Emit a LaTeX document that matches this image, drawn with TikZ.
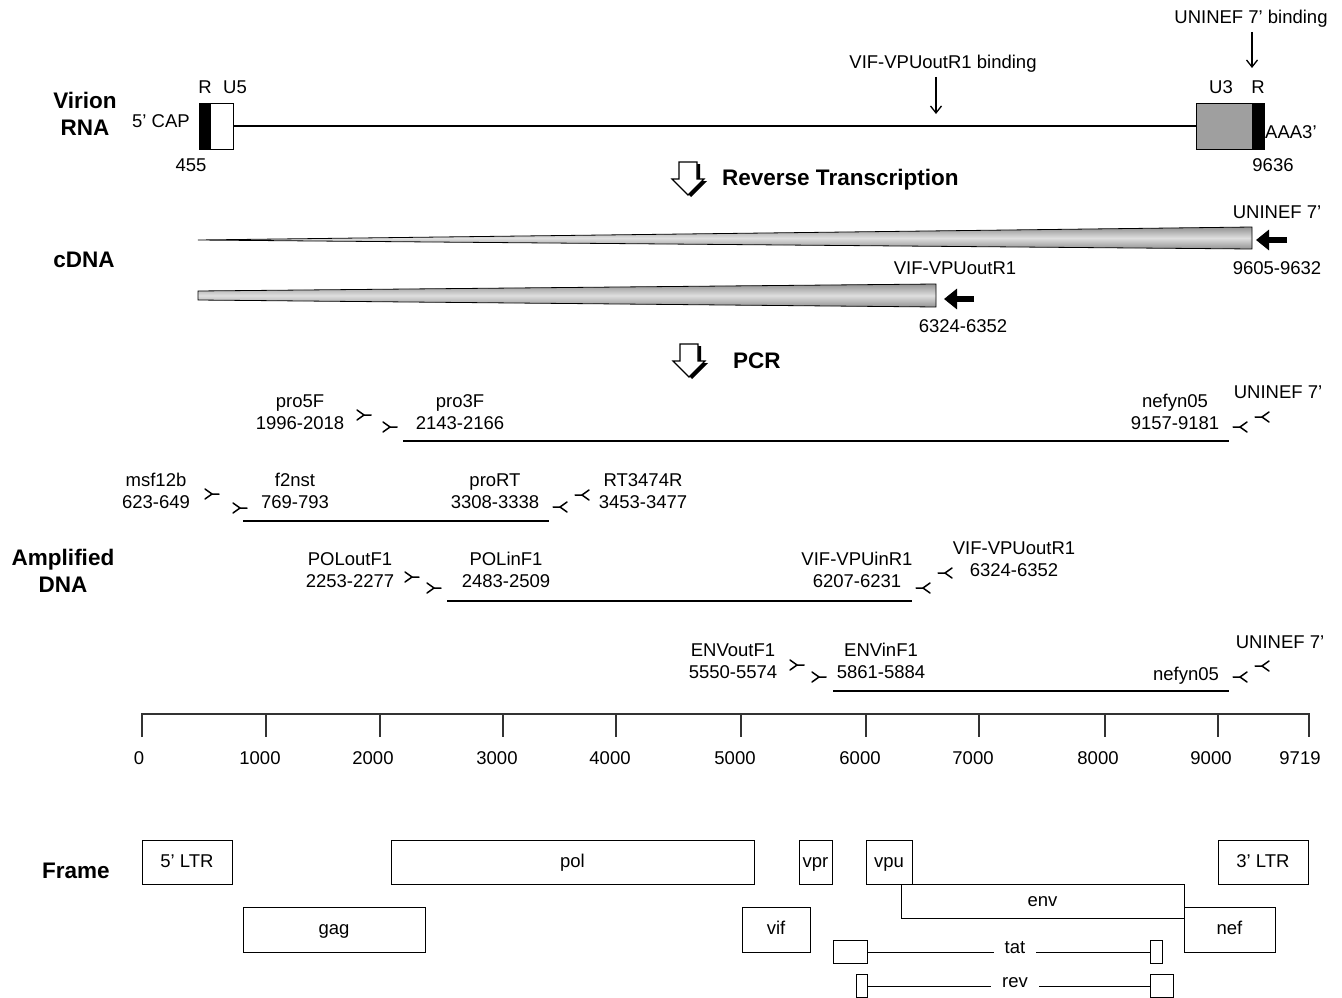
\documentclass[tikz,border=0pt]{standalone}
\usepackage{fontspec}
\setmainfont{Liberation Sans}
\usetikzlibrary{arrows.meta,calc}
\begin{document}
\begin{tikzpicture}[x=1pt,y=-1pt,
  lbl/.style={font=\fontsize{18.5}{22}\selectfont, inner sep=0pt, align=center},
  ttl/.style={font=\fontsize{22.5}{27}\selectfont\bfseries, inner sep=0pt, align=center},
  gene/.style={draw, line width=1pt, inner sep=0pt, font=\fontsize{18.5}{22}\selectfont, text height=13pt, text depth=3pt},
  rnaline/.style={line width=1.4pt},
  amp/.style={line width=2.2pt},
  primer/.style={line width=1.5pt, line cap=round, line join=round},
  bindarrow/.style={line width=1.3pt, -{Straight Barb[length=7pt,width=11pt,line width=1.3pt]}, shorten <=4pt},
  fatarrow/.style={line width=5.5pt, -{Triangle[length=13pt,width=20pt]}},
  wedge/.style={draw, line width=0.8pt, top color=gray!85, bottom color=gray!85, middle color=gray!25},
  fwdp/.pic={\draw[primer] (-7,-5) -- (0,0) -- (7,0);
             \draw[primer] (-7,5) -- (0,0);},
  revp/.pic={\draw[primer] (7,-5) -- (0,0) -- (-7,0);
             \draw[primer] (7,5) -- (0,0);},
  blockdown/.pic={\fill[black, shift={(3,2)}] (-9,0) -- (9,0) -- (9,17) -- (16,17) -- (0,33) -- (-16,17) -- (-9,17) -- cycle;
                  \filldraw[fill=white, line width=1.2pt] (-9,0) -- (9,0) -- (9,17) -- (16,17) -- (0,33) -- (-16,17) -- (-9,17) -- cycle;}
]
\useasboundingbox (0,0) rectangle (1342,998);

% ---------------- Virion RNA ----------------
\node[ttl] (virion) at (85,114) {Virion\\RNA};
\node[lbl, anchor=west] (cap) at (132,121) {5' CAP};
\node[draw, fill=black, line width=1pt, minimum width=11, minimum height=46, inner sep=0pt] (r5) at (204.5,126) {};
\node[draw, fill=white, line width=1pt, minimum width=23, minimum height=46, inner sep=0pt] (u5) at (221.5,126) {};
\node[draw, fill=gray!75, line width=1pt, minimum width=56, minimum height=46, inner sep=0pt] (u3) at (1224,126) {};
\node[draw, fill=black, line width=1pt, minimum width=12, minimum height=46, inner sep=0pt] (r3) at (1258,126) {};
\draw[rnaline] (u5.east) -- (u3.west);
\node[lbl] (rlab5) at (205,87) {R};
\node[lbl] (u5lab) at (235,87) {U5};
\node[lbl] (n455) at (191,165) {455};
\node[lbl] (u3lab) at (1221,87) {U3};
\node[lbl] (rlab3) at (1258,87) {R};
\node[lbl, anchor=west] (aaa) at (1265,132) {AAA3'};
\node[lbl] (n9636) at (1273,165) {9636};

\node[lbl] (unibind) at (1251,19) {UNINEF 7' binding};
\coordinate (ub) at (1252,68);
\draw[bindarrow] (unibind.south -| ub) -- (ub);
\node[lbl] (vifbind) at (943,64) {VIF-VPUoutR1 binding};
\coordinate (vb) at (936,114);
\draw[bindarrow] (vifbind.south -| vb) -- (vb);

% ---------------- Reverse transcription ----------------
\pic at (688,162) {blockdown};
\node[ttl, anchor=west] (rt) at (722,180) {Reverse Transcription};

% ---------------- cDNA ----------------
\node[ttl] (cdna) at (84,260) {cDNA};
\shade[wedge] (198,240) -- (1252,227) -- (1252,249) -- cycle;
\shade[wedge] (198,291) -- (936,284) -- (936,307) -- (198,300) -- cycle;
\coordinate (a1s) at (1287,240); \coordinate (a1e) at (1256,240);
\draw[fatarrow] (a1s) -- (a1e);
\coordinate (a2s) at (974,299); \coordinate (a2e) at (944,299);
\draw[fatarrow] (a2s) -- (a2e);
\node[lbl] (c1a) at (1277,212) {UNINEF 7'};
\node[lbl] (c1b) at (1277,268) {9605-9632};
\node[lbl] (c2a) at (955,268) {VIF-VPUoutR1};
\node[lbl] (c2b) at (963,326) {6324-6352};

% ---------------- PCR ----------------
\pic at (689,344) {blockdown};
\node[ttl, anchor=west] (pcr) at (733,361) {PCR};

% ---------------- Amplified DNA ----------------
\node[ttl] (ampl) at (63,571) {Amplified\\DNA};

% row 1
\coordinate (l1a) at (403,441); \coordinate (l1b) at (1229,441);
\draw[amp] (l1a) -- (l1b);
\node[lbl] (p1) at (300,412) {pro5F\\1996-2018};
\node[lbl] (p2) at (460,412) {pro3F\\2143-2166};
\node[lbl] (p3) at (1175,412) {nefyn05\\9157-9181};
\node[lbl] (p4) at (1278,392) {UNINEF 7'};
\pic at (364,415) {fwdp};
\pic at (390,427) {fwdp};
\pic at (1240,427) {revp};
\pic at (1262,417) {revp};

% row 2
\coordinate (l2a) at (243,521); \coordinate (l2b) at (549,521);
\draw[amp] (l2a) -- (l2b);
\node[lbl] (q1) at (156,491) {msf12b\\623-649};
\node[lbl] (q2) at (295,491) {f2nst\\769-793};
\node[lbl] (q3) at (495,491) {proRT\\3308-3338};
\node[lbl] (q4) at (643,491) {RT3474R\\3453-3477};
\pic at (212,494) {fwdp};
\pic at (240,508) {fwdp};
\pic at (560,507) {revp};
\pic at (582,495) {revp};

% row 3
\coordinate (l3a) at (447,601); \coordinate (l3b) at (912,601);
\draw[amp] (l3a) -- (l3b);
\node[lbl] (s1) at (350,570) {POLoutF1\\2253-2277};
\node[lbl] (s2) at (506,570) {POLinF1\\2483-2509};
\node[lbl] (s3) at (857,570) {VIF-VPUinR1\\6207-6231};
\node[lbl] (s4) at (1014,559) {VIF-VPUoutR1\\6324-6352};
\pic at (412,577) {fwdp};
\pic at (434,588) {fwdp};
\pic at (923,588) {revp};
\pic at (945,573) {revp};

% row 4
\coordinate (l4a) at (833,691); \coordinate (l4b) at (1229,691);
\draw[amp] (l4a) -- (l4b);
\node[lbl] (t1) at (733,661) {ENVoutF1\\5550-5574};
\node[lbl] (t2) at (881,661) {ENVinF1\\5861-5884};
\node[lbl] (t3) at (1186,676) {nefyn05};
\node[lbl] (t4) at (1280,642) {UNINEF 7'};
\pic at (797,665) {fwdp};
\pic at (819,677) {fwdp};
\pic at (1240,677) {revp};
\pic at (1262,666) {revp};

% ---------------- Axis ----------------
\draw[line width=1.3pt, black!80] (142,737) -- (142,714) -- (1309,714) -- (1309,737);
\foreach \tx/\lx/\v in {266/260/1000, 380/373/2000, 503/497/3000, 616/610/4000, 741/735/5000, 866/860/6000, 979/973/7000, 1105/1098/8000, 1218/1211/9000}{
  \draw[line width=1.3pt, black!80] (\tx,714) -- (\tx,737);
  \node[lbl] (ax\v) at (\lx,758) {\v};
}
\node[lbl] (ax0) at (139,758) {0};
\node[lbl] (ax9719) at (1300,758) {9719};

% ---------------- Frame ----------------
\node[ttl] (frame) at (76,871) {Frame};
\node[gene, minimum width=90, minimum height=44] (ltr5) at (187,862) {5' LTR};
\node[gene, minimum width=363, minimum height=44] (pol) at (572.5,862) {pol};
\node[gene, minimum width=33, minimum height=44] (vpr) at (815.5,862) {vpr};
\node[gene, minimum width=46, minimum height=44] (vpu) at (889,862) {vpu};
\node[gene, minimum width=283, minimum height=34] (env) at (1042.5,901) {env};
\node[gene, minimum width=90, minimum height=44] (ltr3) at (1263,862) {3' LTR};
\node[gene, minimum width=182, minimum height=45] (gag) at (334,929.5) {gag};
\node[gene, minimum width=68, minimum height=45] (vif) at (776,929.5) {vif};
\node[gene, minimum width=91, minimum height=45] (nef) at (1229.5,929.5) {nef};

% tat
\node[draw, line width=1pt, inner sep=0pt, minimum width=34, minimum height=23] (tat1) at (850,952) {};
\node[draw, line width=1pt, inner sep=0pt, minimum width=12, minimum height=23] (tat2) at (1156,952) {};
\node[lbl, inner xsep=11pt] (tatl) at (1015,948) {tat};
\draw[line width=1pt] (tat1.east) -- (tat1.east -| tatl.west);
\draw[line width=1pt] (tat2.west -| tatl.east) -- (tat2.west);
% rev
\node[draw, line width=1pt, inner sep=0pt, minimum width=11, minimum height=23] (rev1) at (861.5,986) {};
\node[draw, line width=1pt, inner sep=0pt, minimum width=23, minimum height=23] (rev2) at (1161.5,986) {};
\node[lbl, inner xsep=11pt] (revl) at (1015,983) {rev};
\draw[line width=1pt] (rev1.east) -- (rev1.east -| revl.west);
\draw[line width=1pt] (rev2.west -| revl.east) -- (rev2.west);
\end{tikzpicture}
\end{document}
